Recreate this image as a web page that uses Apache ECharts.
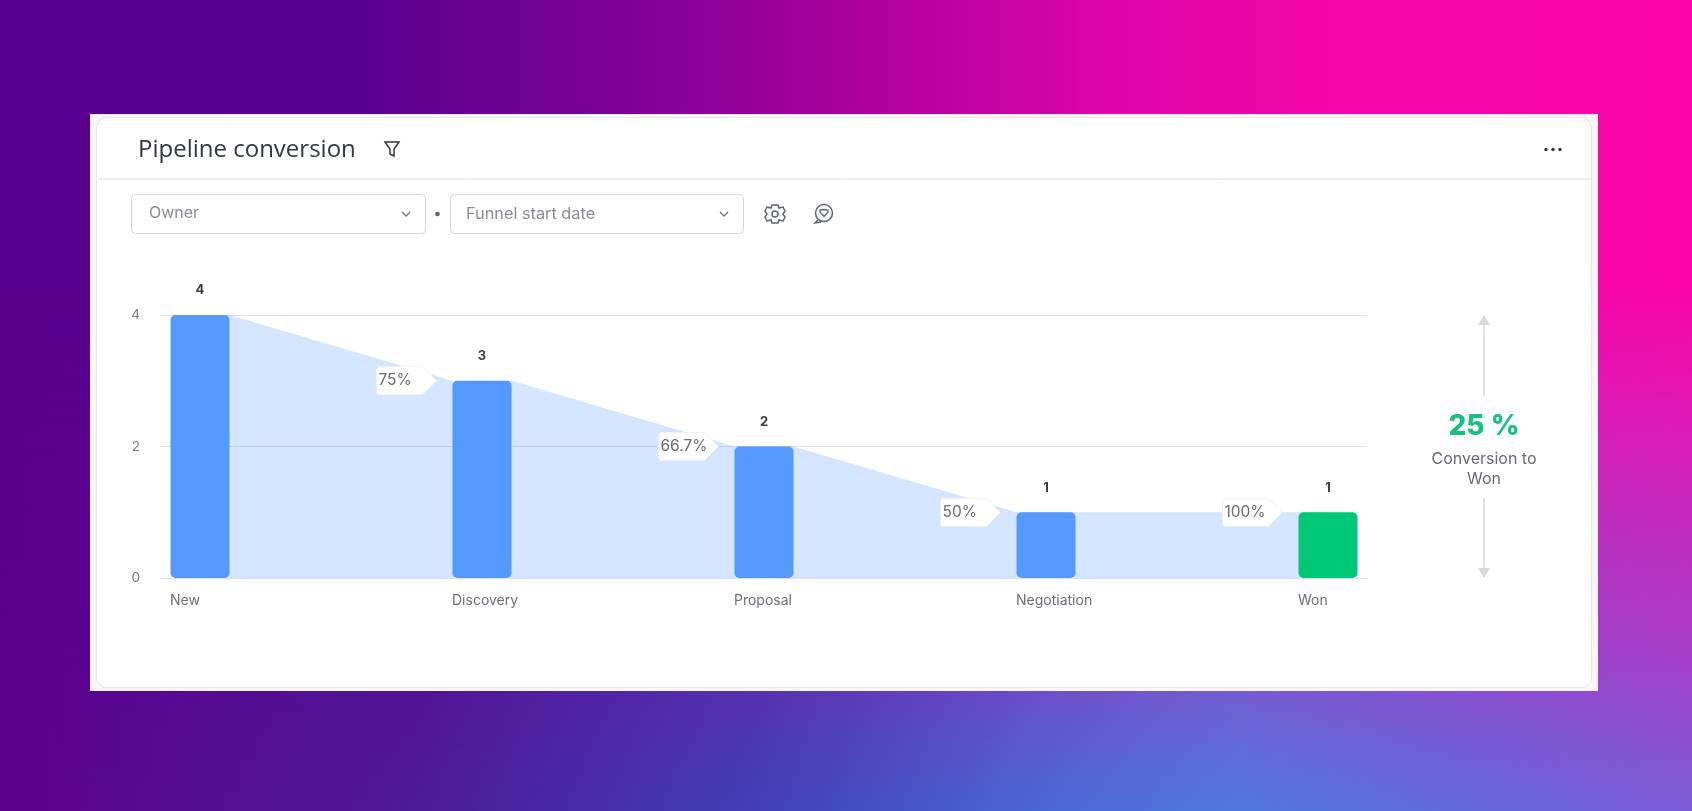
<!DOCTYPE html>
<html><head><meta charset="utf-8">
<style>
html,body{margin:0;padding:0;width:1692px;height:811px;overflow:hidden}
body{background:linear-gradient(90deg,#5a0090 0%,#580090 21%,#7a0096 36%,#a8009a 50%,#dc05a8 65%,#f505aa 80%,#fb05aa 100%)}
#glow{position:absolute;left:0;top:0;width:1692px;height:811px;
 background:linear-gradient(90deg,#5c008f 0%,#4c1a9a 25%,#4040b8 45%,#4a68d6 62%,#4f78e0 73%,#6268dc 87%,#7b5cd8 100%);
 -webkit-mask-image:linear-gradient(to bottom,transparent 280px,rgba(0,0,0,.2) 405px,rgba(0,0,0,.45) 530px,rgba(0,0,0,.65) 650px,rgba(0,0,0,.85) 730px,#000 811px);
 mask-image:linear-gradient(to bottom,transparent 280px,rgba(0,0,0,.2) 405px,rgba(0,0,0,.45) 530px,rgba(0,0,0,.65) 650px,rgba(0,0,0,.85) 730px,#000 811px)}
#card{position:absolute;left:90px;top:114px;width:1508px;height:577px;background:#f9f5fc}
#inner{position:absolute;left:97px;top:118px;width:1494px;height:569px;background:#fff;border-radius:10px;box-shadow:0 0 0 1px #e9e6f2}
#c{position:absolute;left:0;top:0;width:1692px;height:811px}
</style>
<script src="https://cdn.jsdelivr.net/npm/echarts@6/dist/echarts.min.js"></script>
</head><body>
<div id="glow"></div><div id="card"></div><div id="inner"></div><div id="c"></div>
<script>
const stages = ['New','Discovery','Proposal','Negotiation','Won'];
const counts = [4,3,2,1,1];
const stepRates = ['', '75%', '66.7%', '50%', '100%'];
const barColor = '#5599ff', wonColor = '#00c875';
const FONT = 'Inter, "Noto Sans", sans-serif';
const BAR_W = 59;

const top_ = 315, bottom_ = 811-578;
const chart = echarts.init(document.getElementById('c'), null, {renderer:'canvas'});

function flowItem(params, api){
  const i = api.value(0);
  if (i >= counts.length-1) return null;
  const a = api.coord([i, counts[i]]), b = api.coord([i+1, counts[i+1]]);
  const a0 = api.coord([i, 0]), b0 = api.coord([i+1, 0]);
  return {type:'polygon', shape:{points:[
    [a[0], a[1]], [a[0]+BAR_W/2, a[1]], [b[0]-BAR_W/2, b[1]], [b[0], b[1]], [b[0], b0[1]], [a0[0], a0[1]]
  ]}, style:{fill:'rgba(84,152,255,0.25)'}};
}
function calloutItem(params, api){
  const i = api.value(0);
  if (i === 0) return null;
  const p = api.coord([i, counts[i]]);
  const tip = p[0]-BAR_W/2-16, cy = p[1], l = tip-60, r = tip-14, h = 14;
  return {type:'group', children:[
    {type:'polygon', shape:{points:[[l+2,cy-h],[r,cy-h],[tip,cy],[r,cy+h],[l+2,cy+h],[l,cy+h-2],[l,cy-h+2]]},
     style:{fill:'#ffffff',stroke:'#f0f1f5',lineWidth:1}},
    {type:'text', style:{text:stepRates[i], x:l+2, y:cy, align:'left', verticalAlign:'middle',
     fill:'#6b6b6b', font:'15.5px '+FONT}}
  ]};
}

const txt = (text,x,y,size,fill,extra={}) => ({type:'text',z:100,style:Object.assign({text,x,y,fill,font:size+'px '+FONT,align:'left',verticalAlign:'middle'},extra)});
const stroke = (c,w)=>({stroke:c,lineWidth:w,fill:'none'});
const iconC = '#5f6270';

const chrome = [
  {type:'rect',z:99,shape:{x:98,y:179,width:1493,height:0},style:{stroke:'#e7e8ee',lineWidth:1}},
  txt('Pipeline conversion',138,150,24,'#333740',{font:'400 24px "Open Sans", '+FONT}),
  // filter icon
  {type:'polygon',z:100,shape:{points:[[385,142],[399,142],[394,149],[394,156],[390,154],[390,149]]},style:stroke('#333740',1.5)},
  // dropdowns
  {type:'rect',z:100,shape:{x:131.5,y:194.5,width:294,height:39,r:4},style:{fill:'#fff',stroke:'#d4d5db',lineWidth:1}},
  {type:'rect',z:100,shape:{x:450.5,y:194.5,width:293,height:39,r:4},style:{fill:'#fff',stroke:'#d4d5db',lineWidth:1}},
  txt('Owner',149,213,16,'#8a8c92'),
  txt('Funnel start date',466,214,16.3,'#8a8c92'),
  {type:'polyline',z:100,shape:{points:[[402,212],[406,216],[410,212]]},style:stroke('#777',1.3)},
  {type:'polyline',z:100,shape:{points:[[720,212],[724,216],[728,212]]},style:stroke('#777',1.3)},
  {type:'circle',z:100,shape:{cx:437.5,cy:214,r:2.3},style:{fill:'#5f6270'}},
  // gear
  {type:'polygon',z:100,shape:{points:[[772,205],[778,205],[779,208],[783,207],[785,211],[783,214],[785,217],[783,221],[779,220],[778,223],[772,223],[771,220],[767,221],[765,217],[767,214],[765,211],[767,207],[771,208]]},style:stroke(iconC,1.5)},
  {type:'circle',z:100,shape:{cx:775,cy:214,r:3},style:stroke(iconC,1.5)},
  // chat heart
  {type:'circle',z:100,shape:{cx:824,cy:213,r:8.5},style:stroke(iconC,1.5)},
  {type:'polyline',z:100,shape:{points:[[818,220],[815,223],[821,222]]},style:stroke(iconC,1.5)},
  {type:'polygon',z:100,shape:{points:[[820,210],[824,209.5],[828,210],[828,212],[824,216.5],[820,212]]},style:stroke(iconC,1.3)},
  // more dots
  {type:'circle',z:100,shape:{cx:1546,cy:149.5,r:1.7},style:{fill:'#333740'}},
  {type:'circle',z:100,shape:{cx:1553,cy:149.5,r:1.7},style:{fill:'#333740'}},
  {type:'circle',z:100,shape:{cx:1560,cy:149.5,r:1.7},style:{fill:'#333740'}},
  // conversion panel
  {type:'line',z:100,shape:{x1:1484,y1:323,x2:1484,y2:396},style:{stroke:'#d7d9e0',lineWidth:1.5}},
  {type:'polygon',z:100,shape:{points:[[1484,315],[1490,325],[1478,325]]},style:{fill:'#d7d9e0'}},
  {type:'line',z:100,shape:{x1:1484,y1:498,x2:1484,y2:570},style:{stroke:'#d7d9e0',lineWidth:1.5}},
  {type:'polygon',z:100,shape:{points:[[1484,578],[1490,568],[1478,568]]},style:{fill:'#d7d9e0'}},
  txt('25 %',1484,427,28,'#14c27a',{align:'center',font:'800 28px '+FONT}),
  txt('Conversion to',1484,459,16,'#676a72',{align:'center'}),
  txt('Won',1484,479,16,'#676a72',{align:'center'})
];

chart.setOption({
  animation:false,
  backgroundColor:'transparent',
  graphic:{elements:chrome},
  grid:[
    {left:200, width:1128, top:top_, bottom:bottom_},   // marks: one tick at each bar centre
    {left:160, width:1207, top:top_, bottom:bottom_},   // y axis and rules
    {left:170, width:1128, top:top_, bottom:bottom_}    // stage names, flush with each bar's left edge
  ],
  xAxis:[
    {gridIndex:0,type:'category',data:stages,boundaryGap:false,show:false},
    {gridIndex:1,type:'category',data:stages,show:false},
    {gridIndex:2,type:'category',data:stages,boundaryGap:false,
     axisLine:{show:false},axisTick:{show:false},
     axisLabel:{interval:0,align:'left',margin:16,fontSize:14,color:'#6e7078',fontFamily:FONT,hideOverlap:false}}
  ],
  yAxis:[
    {gridIndex:0,type:'value',min:0,max:4,show:false},
    {gridIndex:1,type:'value',min:0,max:4,interval:2,
     axisLine:{show:false},axisTick:{show:false},
     axisLabel:{margin:20,fontSize:13.5,color:'#777a80',fontFamily:FONT,verticalAlignMinLabel:'middle',verticalAlignMaxLabel:'middle'},
     splitLine:{lineStyle:{color:'#dfe2ea',width:1}}},
    {gridIndex:2,type:'value',min:0,max:4,show:false}
  ],
  series:[
    {type:'custom',xAxisIndex:0,yAxisIndex:0,z:1,renderItem:flowItem,silent:true,clip:false,
     data:counts.map((v,i)=>[i,v])},
    {type:'bar',xAxisIndex:0,yAxisIndex:0,z:3,barWidth:BAR_W,clip:false,
     data:counts.map((v,i)=>({value:v,itemStyle:{color:stages[i]==='Won'?wonColor:barColor}})),
     itemStyle:{borderRadius:5},
     label:{show:true,position:'top',distance:18,fontSize:13,fontWeight:700,color:'#3a3c44',fontFamily:FONT}},
    {type:'custom',xAxisIndex:0,yAxisIndex:0,z:4,renderItem:calloutItem,silent:true,clip:false,
     data:counts.map((v,i)=>[i,v])}
  ]
});
</script>
</body></html>
